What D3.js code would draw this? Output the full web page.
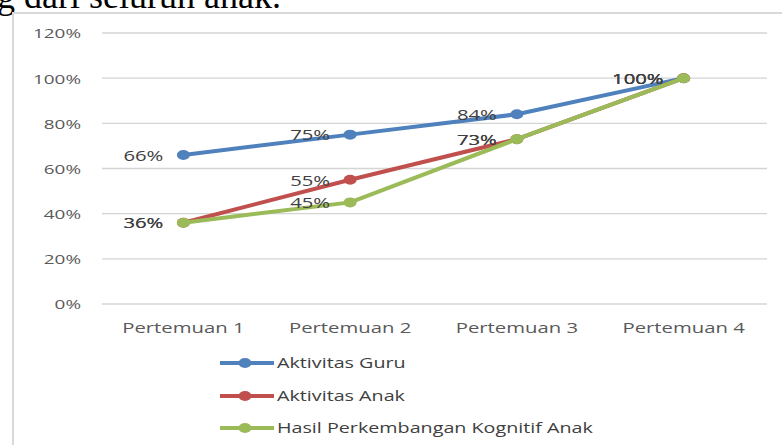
<!DOCTYPE html>
<html><head><meta charset="utf-8">
<script src="https://cdn.jsdelivr.net/npm/d3@7"></script>
<style>body{margin:0;background:#fff;}svg{display:block;}</style>
</head><body>
<script>
const categories = ["Pertemuan 1", "Pertemuan 2", "Pertemuan 3", "Pertemuan 4"];
const seriesNames = ["Aktivitas Guru", "Aktivitas Anak", "Hasil Perkembangan Kognitif Anak"];
const aktivitasGuru = [66, 75, 84, 100];
const aktivitasAnak = [36, 55, 73, 100];
const hasilKognitif = [36, 45, 73, 100];
const yTicks = [0, 20, 40, 60, 80, 100, 120];
const colors = ["#4F81BD", "#C0504D", "#9BBB59"];
const headerText = "g dari seluruh anak.";

const series = [aktivitasGuru, aktivitasAnak, hasilKognitif].map((v, i) => ({name: seriesNames[i], values: v, color: colors[i]}));

const W = 782, H = 445;
const SX = 1.4; // horizontal text stretch
const FONT = "'Open Sans', sans-serif";
const svg = d3.select("body").append("svg").attr("width", W).attr("height", H);

// header text fragment from document (cut off at the top, as in the reference)
svg.append("text").attr("x", -3).attr("y", 8)
  .attr("font-family", "'Liberation Serif', serif").attr("font-size", 36).attr("fill", "#000")
  .text(headerText);

// chart border
svg.append("path").attr("d", `M13,${H} L13,13 L${W},13`).attr("fill", "none")
  .attr("stroke", "#d9d9d9").attr("stroke-width", 2);

const x = d3.scalePoint().domain(categories).range([100, 767]).padding(0.5);
const y = d3.scaleLinear().domain([0, 120]).range([304, 33]);

// gridlines
svg.append("g").selectAll("line").data(yTicks).join("line")
  .attr("x1", 102).attr("x2", 767).attr("y1", d => y(d)).attr("y2", d => y(d))
  .attr("stroke", "#d4d4d4").attr("stroke-width", 1.3);

function stretchedText(g, tx, ty, txt, anchor, size, fill, sx) {
  return g.append("text").attr("transform", `translate(${tx},${ty}) scale(${sx || SX},1)`)
    .attr("text-anchor", anchor).attr("dominant-baseline", "central")
    .attr("font-family", FONT).attr("font-size", size).attr("fill", fill).text(txt);
}

// y axis labels
const yAx = svg.append("g");
yTicks.forEach(t => stretchedText(yAx, 81, y(t), t + "%", "end", 13.5, "#595959"));

// x axis labels
const xAx = svg.append("g");
categories.forEach(c => stretchedText(xAx, x(c), 327, c, "middle", 14, "#595959", 1.45));

// lines
const line = d3.line().x((d, i) => x(categories[i])).y(d => y(d));
series.forEach(s => {
  const g = svg.append("g");
  g.append("path").datum(s.values).attr("d", line).attr("fill", "none")
    .attr("stroke", s.color).attr("stroke-width", 4).attr("stroke-linejoin", "round");
  g.selectAll("ellipse").data(s.values).join("ellipse")
    .attr("cx", (d, i) => x(categories[i])).attr("cy", d => y(d))
    .attr("rx", 6.5).attr("ry", 5).attr("fill", s.color);
});

// data labels
const lab = svg.append("g");
series.forEach(s => {
  s.values.forEach((v, i) => stretchedText(lab, x(categories[i]) - 20, y(v), v + "%", "end", 14.5, "#404040"));
});

// legend
const leg = svg.append("g");
const legY = [363, 396, 428];
series.forEach((s, i) => {
  leg.append("line").attr("x1", 220).attr("x2", 274).attr("y1", legY[i]).attr("y2", legY[i])
    .attr("stroke", s.color).attr("stroke-width", 4);
  leg.append("ellipse").attr("cx", 245).attr("cy", legY[i]).attr("rx", 6.5).attr("ry", 5).attr("fill", s.color);
  stretchedText(leg, 277, legY[i], s.name, "start", 14.5, "#404040", 1.36);
});
</script>
</body></html>
